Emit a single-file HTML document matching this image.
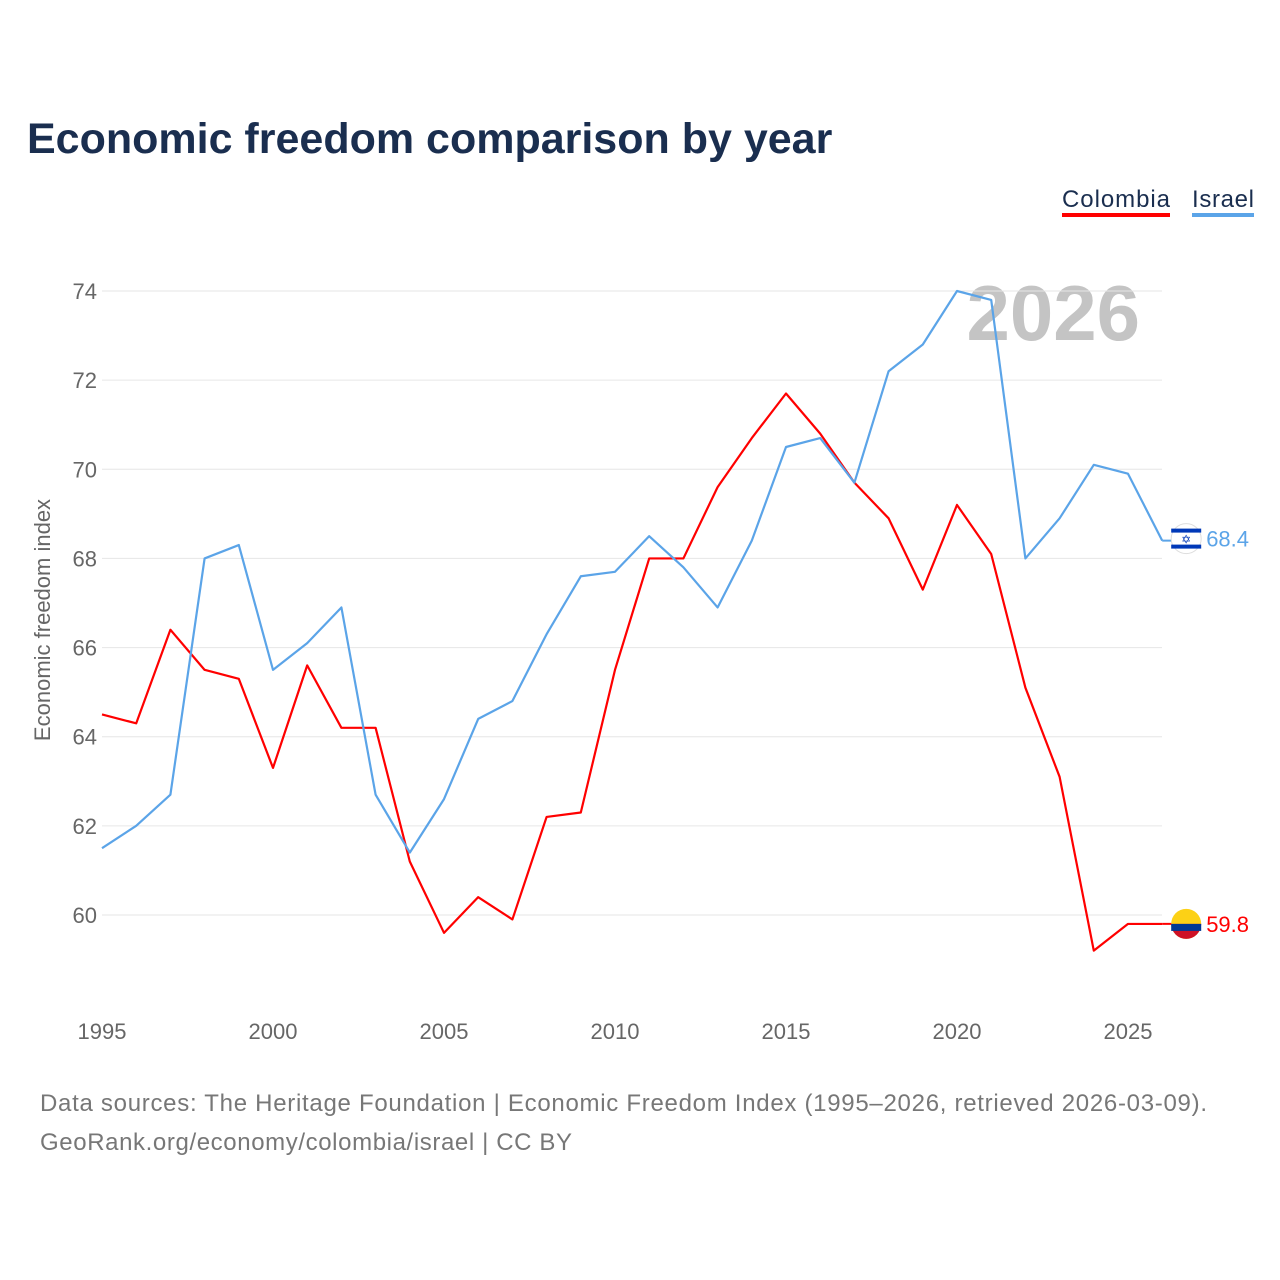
<!DOCTYPE html>
<html><head><meta charset="utf-8">
<style>
body{margin:0;background:#fff;font-family:"Liberation Sans",sans-serif;}
#wrap{position:relative;width:1280px;height:1280px;overflow:hidden;}
</style></head>
<body>
<div id="wrap">
<svg id="chart" width="1280" height="1280">
<text x="27" y="153" font-size="43" font-weight="bold" fill="#1a2e4f">Economic freedom comparison by year</text>
<g>
<text x="1062" y="207" font-size="24" fill="#1a2e4f" textLength="108">Colombia</text>
<rect x="1062" y="213" width="108" height="4" fill="#ff0000"/>
<text x="1192" y="207" font-size="24" fill="#1a2e4f" textLength="62">Israel</text>
<rect x="1192" y="213" width="62" height="4" fill="#5ba4e8"/>
</g>
<text x="1140" y="340" font-size="78" font-weight="bold" fill="#c4c4c4" text-anchor="end">2026</text>
<text transform="translate(50,620) rotate(-90)" font-size="22" fill="#666" text-anchor="middle">Economic freedom index</text>
<g id="grid"></g><g id="series"></g>
<text x="40" y="1111" font-size="24" fill="#777" textLength="1167">Data sources: The Heritage Foundation | Economic Freedom Index (1995–2026, retrieved 2026-03-09).</text>
<text x="40" y="1150" font-size="24" fill="#777" textLength="532">GeoRank.org/economy/colombia/israel | CC BY</text>
</svg>
</div>
<script>
const years=[1995,1996,1997,1998,1999,2000,2001,2002,2003,2004,2005,2006,2007,2008,2009,2010,2011,2012,2013,2014,2015,2016,2017,2018,2019,2020,2021,2022,2023,2024,2025,2026];
const colombia=[64.5,64.3,66.4,65.5,65.3,63.3,65.6,64.2,64.2,61.2,59.6,60.4,59.9,62.2,62.3,65.5,68.0,68.0,69.6,70.7,71.7,70.8,69.7,68.9,67.3,69.2,68.1,65.1,63.1,59.2,59.8,59.8];
const israel=[61.5,62.0,62.7,68.0,68.3,65.5,66.1,66.9,62.7,61.4,62.6,64.4,64.8,66.3,67.6,67.7,68.5,67.8,66.9,68.4,70.5,70.7,69.7,72.2,72.8,74.0,73.8,68.0,68.9,70.1,69.9,68.4];
const yTicks=[60,62,64,66,68,70,72,74];
const xTicks=[1995,2000,2005,2010,2015,2020,2025];
const NS="http://www.w3.org/2000/svg";
function X(y){return 102+(y-1995)*(1026/30);}
function Y(v){return 915-(v-60)*(624/14);}
function mk(tag,attrs,parent,txt){const e=document.createElementNS(NS,tag);for(const k in attrs)e.setAttribute(k,attrs[k]);if(txt!==undefined)e.textContent=txt;parent.appendChild(e);return e;}
const grid=document.getElementById('grid'),ser=document.getElementById('series');
yTicks.forEach(t=>{
 const l=mk('line',{x1:102,x2:1162,y1:Y(t),y2:Y(t),stroke:'#e6e6e6','stroke-width':1},grid);
 
 
 const tx=mk('text',{x:97,y:Y(t)+8,'font-size':22,fill:'#666','text-anchor':'end'},grid,String(t));
 
 
});
xTicks.forEach(t=>{
 const tx=mk('text',{x:X(t),y:1039,'font-size':22,fill:'#666','text-anchor':'middle'},grid,String(t));
 
 
});
function line(vals,color,name){
 const p=mk('polyline',{points:vals.map((v,i)=>X(years[i])+','+Y(v)).join(' '),fill:'none',stroke:color,'stroke-width':2.2,'stroke-linejoin':'round'},ser);
 
 
 const last=vals[vals.length-1];
 const cy=Y(last)-(name==='israel'?2:0), cx=X(years[years.length-1])+24;
 mk('line',{x1:cx-24,x2:cx,y1:Y(last),y2:Y(last),stroke:color,'stroke-width':2},ser);
 const g=mk('g',{},ser);
 
 
 if(name==='colombia'){
  mk('circle',{cx:cx,cy:cy,r:15,fill:'#fcd116'},g);
  mk('path',{d:`M${cx-15},${cy} h30 a15,15 0 0 1 -30 0z`,fill:'#ce1126'},g);
  mk('rect',{x:cx-15,y:cy,width:30,height:7,fill:'#003893'},g);
 } else {
  mk('circle',{cx:cx,cy:cy,r:15,fill:'#fff',stroke:'#ddd'},g);
  mk('rect',{x:cx-15,y:cy-10,width:30,height:4,fill:'#0038b8'},g);
  mk('rect',{x:cx-15,y:cy+6,width:30,height:4,fill:'#0038b8'},g);
  mk('text',{x:cx,y:cy+5,'font-size':12,fill:'#0038b8','text-anchor':'middle'},g,'✡');
 }
 const lb=mk('text',{x:cx+20,y:cy+8,'font-size':22,fill:color},ser,last.toFixed(1));
 
 
}
line(colombia,'#ff0000','colombia');
line(israel,'#5ba4e8','israel');
</script>
</body></html>
